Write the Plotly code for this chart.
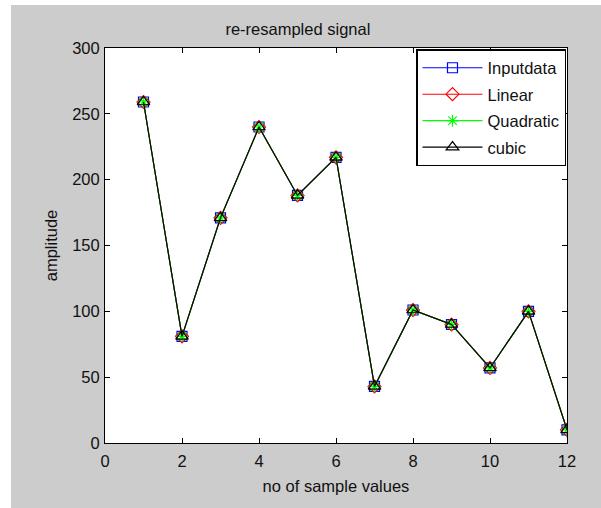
import plotly.graph_objects as go

# Data
samples = [1, 2, 3, 4, 5, 6, 7, 8, 9, 10, 11, 12]
inputdata = [259, 81, 171, 240, 188, 217, 43, 101, 90, 57, 100, 10]
linear = [259, 81, 171, 240, 188, 217, 43, 101, 90, 57, 100, 10]
quadratic = [259, 81, 171, 240, 188, 217, 43, 101, 90, 57, 100, 10]
cubic = [259, 81, 171, 240, 188, 217, 43, 101, 90, 57, 100, 10]

series_names = ["Inputdata", "Linear", "Quadratic", "cubic"]
x_ticks = [0, 2, 4, 6, 8, 10, 12]
y_ticks = [0, 50, 100, 150, 200, 250, 300]

FONT = "Liberation Sans, Arial, sans-serif"
FS = 16.5
W, H = 601, 508
ML, MR, MT, MB = 105, 34, 48, 65
PW, PH = W - ML - MR, H - MT - MB

styles = [
    dict(color="#0000ff", symbol="square-open", size=10),
    dict(color="#ff0000", symbol="diamond-open", size=10),
    dict(color="#00ff00", symbol="asterisk-open", size=10),
    dict(color="#000000", symbol="triangle-up-open", size=11),
]

fig = go.Figure()
for name, ys, st in zip(series_names, [inputdata, linear, quadratic, cubic], styles):
    fig.add_trace(go.Scatter(
        x=samples, y=ys, name=name, mode="lines+markers",
        line=dict(color=st["color"], width=1.1),
        marker=dict(symbol=st["symbol"], size=st["size"], color=st["color"],
                    line=dict(color=st["color"], width=1.2)),
        legendgroup=name,
    ))

def px_x(p):
    return (p - ML) / PW

def px_y(p):
    return (H - MB - p) / PH

shapes = [
    dict(type="rect", xref="paper", yref="paper", x0=px_x(-2), x1=px_x(11),
         y0=px_y(H + 2), y1=px_y(-2), fillcolor="white", line=dict(width=0)),
    dict(type="rect", xref="paper", yref="paper", x0=px_x(-2), x1=px_x(W + 2),
         y0=px_y(5), y1=px_y(-2), fillcolor="white", line=dict(width=0)),
]

axis_common = dict(ticks="inside", ticklen=5, tickcolor="black", showline=True,
                   linecolor="black", linewidth=1, mirror="allticks",
                   showgrid=False, zeroline=False,
                   tickfont=dict(family=FONT, size=FS, color="#111111"))

fig.update_layout(
    width=W, height=H,
    margin=dict(l=ML, r=MR, t=MT, b=MB, autoexpand=False),
    paper_bgcolor="#cccccc", plot_bgcolor="white",
    font=dict(family=FONT, size=FS, color="#111111"),
    title=dict(text="re-resampled signal", x=px_x(334), xanchor="center",
               y=1 - 29 / H, yanchor="middle", font=dict(size=FS)),
    shapes=shapes,
    showlegend=True,
    legend=dict(x=px_x(566), xanchor="right", y=px_y(49), yanchor="top",
                bgcolor="white", bordercolor="black", borderwidth=1.5,
                font=dict(family=FONT, size=FS, color="#111111"),
                itemwidth=60, tracegroupgap=2, traceorder="grouped"),
    xaxis=dict(range=[0, 12], tickvals=x_ticks, ticklabelstandoff=3,
               title=dict(text="no of sample values", standoff=11,
                          font=dict(family=FONT, size=FS, color="#111111")),
               **axis_common),
    yaxis=dict(range=[0, 300], tickvals=y_ticks, ticklabelstandoff=1,
               title=dict(text="amplitude", standoff=10,
                          font=dict(family=FONT, size=FS, color="#111111")),
               **axis_common),
)

fig.write_html("out.html", config={"displayModeBar": False},
               post_script="document.body.style.margin='0';document.body.style.overflow='hidden';")
